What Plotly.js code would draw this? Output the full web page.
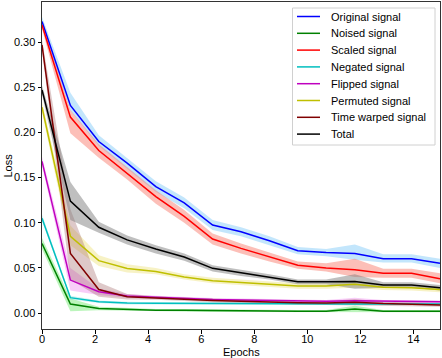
<!DOCTYPE html>
<html><head><meta charset="utf-8">
<script src="https://cdn.plot.ly/plotly-3.0.1.min.js"></script>
<style>html,body{margin:0;padding:0;background:#fff}#chart{width:442px;height:358px}</style>
</head><body><div id="chart"></div>
<script>
const epochs = [0, 1.07, 2.14, 3.21, 4.29, 5.36, 6.43, 7.5, 8.57, 9.64, 10.71, 11.79, 12.86, 13.93, 15];
const xTicks = [0, 2, 4, 6, 8, 10, 12, 14];
const yTicks = [0, 0.05, 0.10, 0.15, 0.20, 0.25, 0.30];
const seriesNames = ["Original signal", "Noised signal", "Scaled signal", "Negated signal", "Flipped signal", "Permuted signal", "Time warped signal", "Total"];

const original = [0.323, 0.230, 0.190, 0.166, 0.140, 0.122, 0.0975, 0.090, 0.080, 0.069, 0.067, 0.066, 0.060, 0.060, 0.055];
const originalLo = [0.318, 0.224, 0.185, 0.160, 0.134, 0.116, 0.092, 0.085, 0.075, 0.065, 0.063, 0.059, 0.056, 0.056, 0.050];
const originalHi = [0.328, 0.244, 0.197, 0.172, 0.146, 0.128, 0.103, 0.095, 0.085, 0.073, 0.071, 0.076, 0.065, 0.065, 0.060];

const noised = [0.077, 0.010, 0.005, 0.004, 0.003, 0.003, 0.0025, 0.0025, 0.0022, 0.002, 0.002, 0.0045, 0.002, 0.002, 0.002];
const noisedLo = [0.071, 0.002, 0.003, 0.0025, 0.0015, 0.0015, 0.001, 0.001, 0.001, 0.0008, 0.0008, 0.001, 0.0008, 0.0008, 0.0008];
const noisedHi = [0.083, 0.016, 0.007, 0.0055, 0.0045, 0.0045, 0.004, 0.004, 0.0035, 0.0033, 0.0033, 0.008, 0.0033, 0.0033, 0.0033];

const scaled = [0.319, 0.217, 0.180, 0.155, 0.129, 0.107, 0.082, 0.0716, 0.062, 0.053, 0.050, 0.048, 0.044, 0.044, 0.038];
const scaledLo = [0.315, 0.199, 0.172, 0.148, 0.121, 0.100, 0.076, 0.066, 0.057, 0.049, 0.046, 0.040, 0.039, 0.039, 0.033];
const scaledHi = [0.323, 0.225, 0.187, 0.162, 0.136, 0.114, 0.088, 0.077, 0.067, 0.057, 0.055, 0.060, 0.049, 0.049, 0.044];

const negated = [0.105, 0.017, 0.0125, 0.011, 0.0107, 0.0105, 0.0103, 0.010, 0.010, 0.010, 0.010, 0.010, 0.010, 0.010, 0.010];
const negatedLo = [0.102, 0.015, 0.011, 0.0095, 0.0093, 0.0092, 0.009, 0.0088, 0.0088, 0.0088, 0.0088, 0.0086, 0.0088, 0.0088, 0.0088];
const negatedHi = [0.109, 0.019, 0.014, 0.0125, 0.012, 0.012, 0.0116, 0.0113, 0.0113, 0.0113, 0.0113, 0.0115, 0.0113, 0.0113, 0.0113];

const flipped = [0.168, 0.0365, 0.0236, 0.0188, 0.0174, 0.016, 0.015, 0.0145, 0.014, 0.013, 0.013, 0.0135, 0.013, 0.013, 0.0125];
const flippedLo = [0.163, 0.025, 0.020, 0.017, 0.0158, 0.0145, 0.0135, 0.013, 0.0125, 0.0115, 0.0115, 0.0098, 0.0115, 0.0115, 0.011];
const flippedHi = [0.173, 0.050, 0.027, 0.021, 0.019, 0.0175, 0.0165, 0.016, 0.0155, 0.0145, 0.0145, 0.017, 0.0145, 0.0145, 0.014];

const permuted = [0.228, 0.085, 0.058, 0.0494, 0.046, 0.040, 0.0358, 0.034, 0.032, 0.030, 0.030, 0.0318, 0.0285, 0.028, 0.026];
const permutedLo = [0.222, 0.075, 0.052, 0.045, 0.043, 0.037, 0.033, 0.031, 0.029, 0.027, 0.027, 0.028, 0.0255, 0.025, 0.023];
const permutedHi = [0.234, 0.097, 0.064, 0.054, 0.050, 0.043, 0.039, 0.037, 0.035, 0.033, 0.033, 0.036, 0.0315, 0.031, 0.029];

const warped = [0.297, 0.066, 0.026, 0.018, 0.0166, 0.015, 0.014, 0.013, 0.012, 0.0115, 0.011, 0.012, 0.0105, 0.0100, 0.009];
const warpedLo = [0.291, 0.037, 0.018, 0.015, 0.0146, 0.013, 0.012, 0.011, 0.010, 0.0095, 0.009, 0.0085, 0.0085, 0.008, 0.007];
const warpedHi = [0.303, 0.115, 0.034, 0.021, 0.0186, 0.017, 0.016, 0.015, 0.014, 0.0135, 0.013, 0.0155, 0.0125, 0.012, 0.011];

const total = [0.247, 0.124, 0.095, 0.081, 0.071, 0.062, 0.0495, 0.0447, 0.040, 0.0347, 0.0347, 0.035, 0.031, 0.031, 0.028];
const totalLo = [0.242, 0.103, 0.089, 0.076, 0.066, 0.058, 0.046, 0.041, 0.037, 0.032, 0.032, 0.027, 0.028, 0.028, 0.025];
const totalHi = [0.252, 0.145, 0.101, 0.086, 0.075, 0.066, 0.053, 0.048, 0.043, 0.037, 0.037, 0.043, 0.034, 0.034, 0.031];

const lineColors = ["#0000ff", "#008000", "#ff0000", "#00bfbf", "#bf00bf", "#bfbf00", "#800000", "#000000"];
const bandColors = ["rgba(135,206,250,0.5)", "rgba(144,238,144,0.6)", "rgba(250,128,114,0.5)", "rgba(0,191,191,0.2)",
  "rgba(238,130,238,0.4)", "rgba(240,230,140,0.5)", "rgba(160,100,100,0.35)", "rgba(128,128,128,0.5)"];

const means = [original, noised, scaled, negated, flipped, permuted, warped, total];
const lows = [originalLo, noisedLo, scaledLo, negatedLo, flippedLo, permutedLo, warpedLo, totalLo];
const highs = [originalHi, noisedHi, scaledHi, negatedHi, flippedHi, permutedHi, warpedHi, totalHi];

const traces = [];
for (let i = 0; i < means.length; i++) {
  traces.push({x: epochs, y: lows[i], type: 'scatter', mode: 'lines', line: {width: 0, color: bandColors[i]},
    showlegend: false, hoverinfo: 'skip'});
  traces.push({x: epochs, y: highs[i], type: 'scatter', mode: 'lines', line: {width: 0, color: bandColors[i]},
    fill: 'tonexty', fillcolor: bandColors[i], showlegend: false, hoverinfo: 'skip'});
}
for (let i = 0; i < means.length; i++) {
  traces.push({x: epochs, y: means[i], type: 'scatter', mode: 'lines', name: seriesNames[i],
    line: {color: lineColors[i], width: 1.5}, showlegend: false});
}

// plot-area geometry (pixels) for the hand-drawn legend box
const W = 442, H = 358, M = {l: 42, r: 2, t: 2, b: 29};
const pw = W - M.l - M.r, ph = H - M.t - M.b;
const px = x => (x - M.l) / pw;
const py = y => 1 - (y - M.t) / ph;

const font = {family: 'Liberation Sans, Arial, sans-serif', size: 11, color: '#000'};
const shapes = [];
const annotations = [];
// legend frame
shapes.push({type: 'rect', xref: 'paper', yref: 'paper', x0: px(292.5), x1: px(435), y0: py(145), y1: py(8),
  line: {color: '#d0d0d0', width: 1}, fillcolor: 'rgba(255,255,255,0.85)', layer: 'above'});
const rowTop = 16.5, rowGap = 16.8;
seriesNames.forEach((name, i) => {
  const yy = rowTop + i * rowGap;
  shapes.push({type: 'line', xref: 'paper', yref: 'paper', x0: px(297), x1: px(320), y0: py(yy), y1: py(yy),
    line: {color: lineColors[i], width: 1.5}, layer: 'above'});
  annotations.push({xref: 'paper', yref: 'paper', x: px(329), y: py(yy), xanchor: 'left', yanchor: 'middle',
    text: name, showarrow: false, font: font});
});
annotations.push({xref: 'paper', yref: 'paper', x: 0.5, y: py(351.5), xanchor: 'center', yanchor: 'middle',
  text: 'Epochs', showarrow: false, font: font});
annotations.push({xref: 'paper', yref: 'paper', x: px(7), y: 0.5, xanchor: 'center', yanchor: 'middle',
  text: 'Loss', showarrow: false, font: font, textangle: -90});

const layout = {
  width: W, height: H,
  margin: M,
  paper_bgcolor: '#fff', plot_bgcolor: '#fff',
  font: font,
  showlegend: false,
  shapes: shapes,
  annotations: annotations,
  xaxis: {range: [0, 15], tickvals: xTicks, ticktext: xTicks.map(String), showgrid: false, zeroline: false,
    ticks: 'outside', ticklen: 3.5, tickwidth: 1, tickcolor: '#000', showline: true, linecolor: '#333', linewidth: 1,
    mirror: true, ticklabelstandoff: -4},
  yaxis: {range: [-0.0177, 0.3445], tickvals: yTicks, ticktext: yTicks.map(v => v.toFixed(2)), showgrid: false, zeroline: false,
    ticks: 'outside', ticklen: 3.5, tickwidth: 1, tickcolor: '#000', showline: true, linecolor: '#333', linewidth: 1,
    mirror: true}
};
Plotly.newPlot('chart', traces, layout, {displayModeBar: false, staticPlot: true});
</script>
</body></html>
